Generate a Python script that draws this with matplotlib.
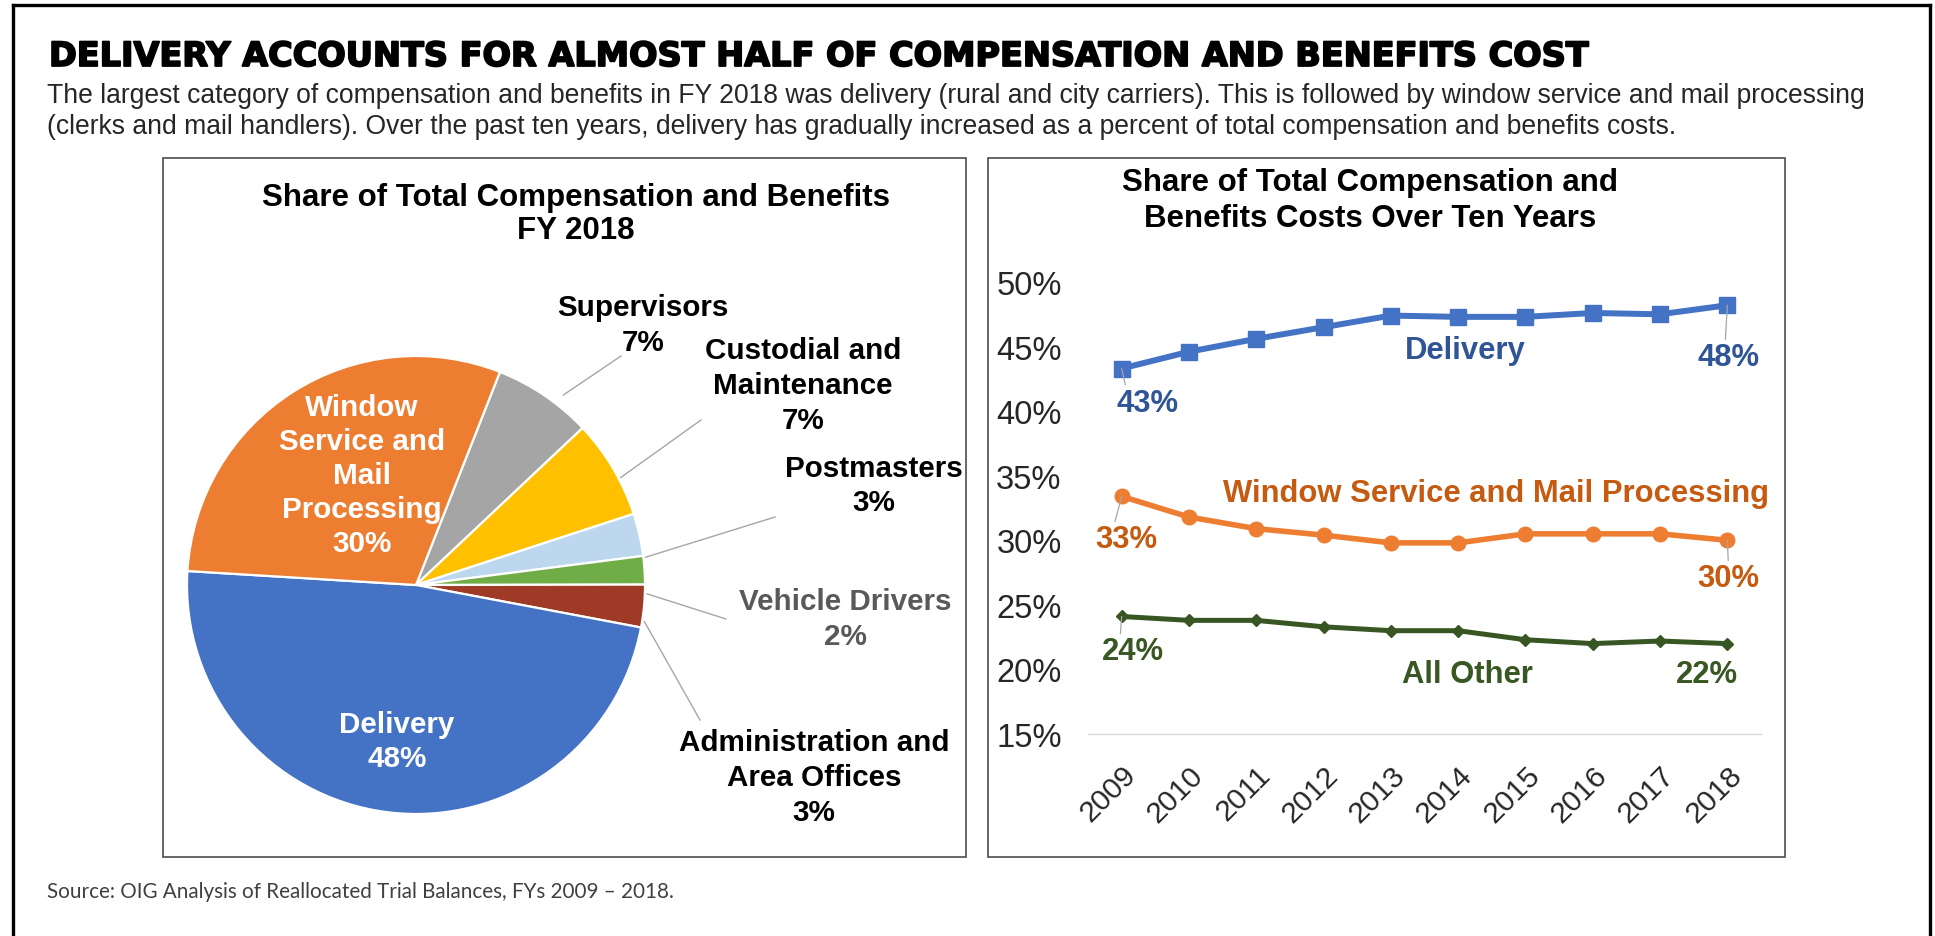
import matplotlib
matplotlib.use("Agg")
import matplotlib.pyplot as plt
from matplotlib.patches import Rectangle
from matplotlib.lines import Line2D
import matplotlib.patheffects as pe
import numpy as np

W, H = 1935, 937
ARIAL = "Liberation Sans"

# ---- data -------------------------------------------------------------
title = "DELIVERY ACCOUNTS FOR ALMOST HALF OF COMPENSATION AND BENEFITS COST"
subtitle_lines = [
    "The largest category of compensation and benefits in FY 2018 was delivery (rural and city carriers). "
    "This is followed by window service and mail processing",
    "(clerks and mail handlers). Over the past ten years, delivery has gradually increased as a percent "
    "of total compensation and benefits costs.",
]
source = "Source: OIG Analysis of Reallocated Trial Balances, FYs 2009 \u2013 2018."

pie_title = ["Share of Total Compensation and Benefits", "FY 2018"]
pie_names = [["Supervisors"], ["Custodial and", "Maintenance"], ["Postmasters"],
             ["Vehicle Drivers"], ["Administration and", "Area Offices"], ["Delivery"],
             ["Window", "Service and", "Mail", "Processing"]]
pie_values = [7, 7, 3, 2, 3, 48, 30]
pie_colors = ["#A5A5A5", "#FFC000", "#BDD7EE", "#70AD47", "#9E3A26", "#4472C4", "#ED7D31"]

line_title = ["Share of Total Compensation and", "Benefits Costs Over Ten Years"]
years = [2009, 2010, 2011, 2012, 2013, 2014, 2015, 2016, 2017, 2018]
delivery = [43.3, 44.6, 45.6, 46.5, 47.4, 47.3, 47.3, 47.6, 47.5, 48.2]
window = [33.4, 31.8, 30.9, 30.4, 29.8, 29.8, 30.5, 30.5, 30.5, 30.0]
other = [24.1, 23.8, 23.8, 23.3, 23.0, 23.0, 22.3, 22.0, 22.2, 22.0]
series_names = ["Delivery", "Window Service and Mail Processing", "All Other"]
y_ticks = [15, 20, 25, 30, 35, 40, 45, 50]

# ---- figure -----------------------------------------------------------
fig = plt.figure(figsize=(W / 100, H / 100), dpi=100)
fig.patch.set_facecolor("white")
renderer = fig.canvas.get_renderer()


def fx(px):
    return px / W


def fy(py):
    return 1 - py / H


def ftext(px, py, s, **kw):
    return fig.text(fx(px), fy(py), s, transform=fig.transFigure, **kw)


def fit_width(t, target):
    w = t.get_window_extent(renderer).width
    t.set_fontsize(t.get_fontsize() * target / w)


def block(lines, cx, ys, **kw):
    for s, y in zip(lines, ys):
        ftext(cx, y, s, ha="center", va="center", **kw)


# outer frame (open at the bottom)
for xs, ys in [((13, 13), (6, 940)), ((13, 1930), (6, 6)), ((1930, 1930), (6, 940))]:
    fig.add_artist(Line2D([fx(x) for x in xs], [fy(y) for y in ys],
                          transform=fig.transFigure, color="black", lw=2.4))

# panel boxes
for x0, x1 in [(163, 966), (988, 1785)]:
    fig.add_artist(Rectangle((fx(x0), fy(858)), fx(x1) - fx(x0), fy(159) - fy(858),
                             transform=fig.transFigure, fill=False,
                             edgecolor="#4D4D4D", lw=1.2))

# headline and subtitle
t = ftext(49, 67, title, ha="left", va="baseline", fontsize=24,
          family="DejaVu Sans", weight="bold", color="black",
          path_effects=[pe.withStroke(linewidth=1.3, foreground="black")])
fit_width(t, 1543)
s1 = ftext(47, 103, subtitle_lines[0], ha="left", va="baseline", fontsize=17,
           family=ARIAL, color="#262626")
fit_width(s1, 1825)
ftext(47, 134, subtitle_lines[1], ha="left", va="baseline", fontsize=s1.get_fontsize(),
      family=ARIAL, color="#262626")

src = ftext(47, 892, source, ha="left", va="center", fontsize=12,
            family="Lato", color="#404040")
fit_width(src, 627)

# ---- pie --------------------------------------------------------------
cx, cy, r = 416, 586, 229
ax_pie = fig.add_axes([fx(cx - r), fy(cy + r), (2 * r) / W, (2 * r) / H])
ax_pie.pie(pie_values, colors=pie_colors, startangle=68.5, counterclock=False,
           radius=1, center=(0, 0),
           wedgeprops=dict(edgecolor="white", linewidth=1.6))
ax_pie.set_xlim(-1, 1)
ax_pie.set_ylim(-1, 1)
ax_pie.axis("off")

block(pie_title, 576, [198, 231], fontsize=22.5, weight="bold", family=ARIAL, color="black")

# label placement: centre x, first line y, line step, colour
pie_label_style = [
    (643, 308, 35, "black"),
    (803, 351, 35, "black"),
    (874, 469, 34, "black"),
    (845, 602, 35, "#595959"),
    (814, 743, 35, "black"),
    (397, 725, 34, "white"),
    (362, 408, 34, "white"),
]
for names, v, (lx, ly, step, col) in zip(pie_names, pie_values, pie_label_style):
    lines = names + [f"{v}%"]
    block(lines, lx, [ly + i * step for i in range(len(lines))],
          fontsize=21.3, weight="bold", family=ARIAL, color=col)

# leader lines: angle on the rim, radius factor, outer end
leaders = [(52.2, 1.05, 621, 357), (27.7, 1.01, 701, 421), (6.9, 1.01, 775, 518),
           (-2.2, 1.01, 726, 620), (-9.1, 1.01, 700, 721)]
for ang, rf, ex, ey in leaders:
    a = np.deg2rad(ang)
    sx = cx + rf * r * np.cos(a)
    sy = cy - rf * r * np.sin(a)
    fig.add_artist(Line2D([fx(sx), fx(ex)], [fy(sy), fy(ey)], transform=fig.transFigure,
                          color="#A6A6A6", lw=1.0))

# ---- line chart -------------------------------------------------------
ax = fig.add_axes([fx(1088), fy(735), (1761 - 1088) / W, (735 - 283) / H])
xs = np.arange(len(years))
ax.plot(xs, delivery, color="#4472C4", lw=4.3, marker="s", ms=11, zorder=3)
ax.plot(xs, window, color="#ED7D31", lw=4.0, marker="o", ms=10.5, zorder=3)
ax.plot(xs, other, color="#375623", lw=3.6, marker="D", ms=6.5, zorder=3)
ax.set_xlim(-0.5, len(years) - 0.5)
ax.set_ylim(15, 50)
ax.set_yticks(y_ticks)
ax.set_yticklabels([f"{v}%" for v in y_ticks], family=ARIAL, fontsize=23.5, color="#262626")
ax.tick_params(axis="y", length=0, pad=19)
ax.set_xticks(xs)
ax.set_xticklabels([])
ax.tick_params(axis="x", length=0)
for sp in ["left", "right", "top"]:
    ax.spines[sp].set_visible(False)
ax.spines["bottom"].set_color("#D9D9D9")
ax.spines["bottom"].set_linewidth(1.0)
ax.patch.set_alpha(0)

for i, yr in enumerate(years):
    ax.annotate(str(yr), xy=(i, 15), xycoords="data", xytext=(10, -36),
                textcoords="offset pixels", rotation=45, rotation_mode="anchor",
                ha="right", va="center", fontsize=21.5, family=ARIAL, color="#262626",
                annotation_clip=False)

block(line_title, 1370, [183, 219], fontsize=22.5, weight="bold", family=ARIAL, color="black")

label_kw = dict(fontsize=22.3, weight="bold", family=ARIAL)
ftext(1465, 351, series_names[0], ha="center", va="center", color="#2F5597", **label_kw)
ftext(1496, 494, series_names[1], ha="center", va="center", color="#C55A11", **label_kw)
ftext(1467, 675, series_names[2], ha="center", va="center", color="#385723", **label_kw)

leader = dict(arrowstyle="-", color="#A6A6A6", lw=0.9, shrinkA=0, shrinkB=0)
endpoint_labels = [
    (delivery, 0, (26, -34), "#2F5597", (0.15, 1.0)),
    (delivery, 9, (1, -52), "#2F5597", (0.45, 1.0)),
    (window, 0, (5, -43), "#C55A11", (0.3, 1.0)),
    (window, 9, (1, -38), "#C55A11", (0.5, 1.0)),
    (other, 0, (11, -35), "#385723", (0.3, 1.0)),
    (other, 9, (-20, -30), "#385723", None),
]
for series, idx, off, col, rel in endpoint_labels:
    kw = dict(label_kw)
    if rel is not None:
        kw["arrowprops"] = dict(leader, relpos=rel)
    ax.annotate(f"{series[idx]:.0f}%", xy=(idx, series[idx]), xytext=off,
                textcoords="offset pixels", ha="center", va="center", color=col,
                annotation_clip=False, zorder=4, **kw)

fig.savefig("out.png", dpi=100, facecolor="white")
